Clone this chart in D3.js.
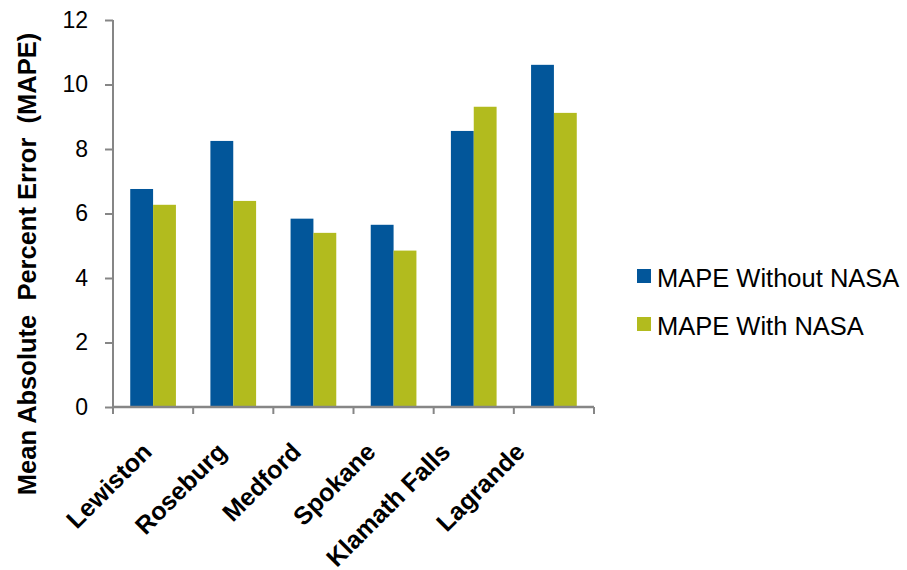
<!DOCTYPE html>
<html>
<head>
<meta charset="utf-8">
<script src="https://cdn.jsdelivr.net/npm/d3@7"></script>
<style>
body{margin:0;background:#fff;}
text{font-family:"Liberation Sans",Arial,sans-serif;}
</style>
</head>
<body>
<svg id="chart" width="907" height="570"></svg>
<script>
// data
var cities = ["Lewiston","Roseburg","Medford","Spokane","Klamath Falls","Lagrande"];
var without_nasa = [6.76, 8.25, 5.84, 5.65, 8.56, 10.61];
var with_nasa = [6.27, 6.39, 5.40, 4.85, 9.31, 9.12];
var series_names = ["MAPE Without NASA","MAPE With NASA"];
var y_ticks = [0,2,4,6,8,10,12];

var colores = ["#02569A","#B2BB1E"];
var svg = d3.select("#chart");
var m_left = 113, m_right = 594, m_top = 20, m_bottom = 407;

var x = d3.scaleBand().domain(cities).range([m_left,m_right]).paddingInner(0.43).paddingOuter(0.215);
var x_in = d3.scaleBand().domain([0,1]).range([0,x.bandwidth()]);
var y = d3.scaleLinear().domain([0,12]).range([m_bottom,m_top]);
// las etiquetas rotadas van un poco mas juntas que las barras
var x_lab = d3.scalePoint().domain(cities).range([141,514]);

var series = [without_nasa, with_nasa];
series.forEach(function(vals,s){
	svg.append("g").selectAll("rect")
	.data(vals)
	.enter().append("rect")
	.attr("x", function(d,i){ return x(cities[i]) + x_in(s); })
	.attr("y", function(d){ return y(d); })
	.attr("width", x_in.bandwidth())
	.attr("height", function(d){ return m_bottom - y(d); })
	.attr("fill", colores[s]);
});

// y axis
var ya = svg.append("g").attr("transform","translate("+m_left+",0)")
	.call(d3.axisLeft(y).tickValues(y_ticks).tickSize(8).tickPadding(17).tickFormat(d3.format("d")));
ya.select(".domain").attr("stroke","#868686").attr("stroke-width",2).attr("d","M0,"+m_top+"V"+m_bottom);
ya.selectAll(".tick line").attr("stroke","#868686").attr("stroke-width",2);
ya.selectAll(".tick text").attr("font-size","23px").attr("fill","#000").attr("font-family","Liberation Sans, Arial, sans-serif");

// x axis with ticks between categories
var xa = svg.append("g").attr("transform","translate(0,"+m_bottom+")");
xa.append("path").attr("d","M"+m_left+",0H"+m_right).attr("stroke","#868686").attr("stroke-width",2.5);
var bounds = d3.range(cities.length+1).map(function(i){ return m_left + i*(m_right-m_left)/cities.length; });
xa.selectAll("line.t").data(bounds).enter().append("line")
	.attr("x1",function(d){return d;}).attr("x2",function(d){return d;})
	.attr("y1",0).attr("y2",7).attr("stroke","#868686").attr("stroke-width",2);

svg.append("g").selectAll("text")
	.data(cities)
	.enter().append("text")
	.attr("transform", function(d){ return "translate("+x_lab(d)+",441) rotate(-45)"; })
	.attr("text-anchor","end")
	.attr("dy","0.7em")
	.attr("font-size","25px")
	.attr("font-weight","bold")
	.text(function(d){ return d; });

// y title
svg.append("text")
	.attr("transform","translate(36,264) rotate(-90)")
	.attr("text-anchor","middle")
	.attr("font-size","25.5px")
	.attr("font-weight","bold")
	.style("white-space","pre")
	.text("Mean Absolute  Percent Error  (MAPE)");

// legend
var leg = svg.append("g").attr("transform","translate(637,269)");
series_names.forEach(function(n,i){
	var g = leg.append("g").attr("transform","translate(0,"+(i*48)+")");
	g.append("rect").attr("width",14).attr("height",14).attr("fill",colores[i]);
	g.append("text").attr("x",20).attr("y",18).attr("font-size","25.5px").text(n);
});
</script>
</body>
</html>
